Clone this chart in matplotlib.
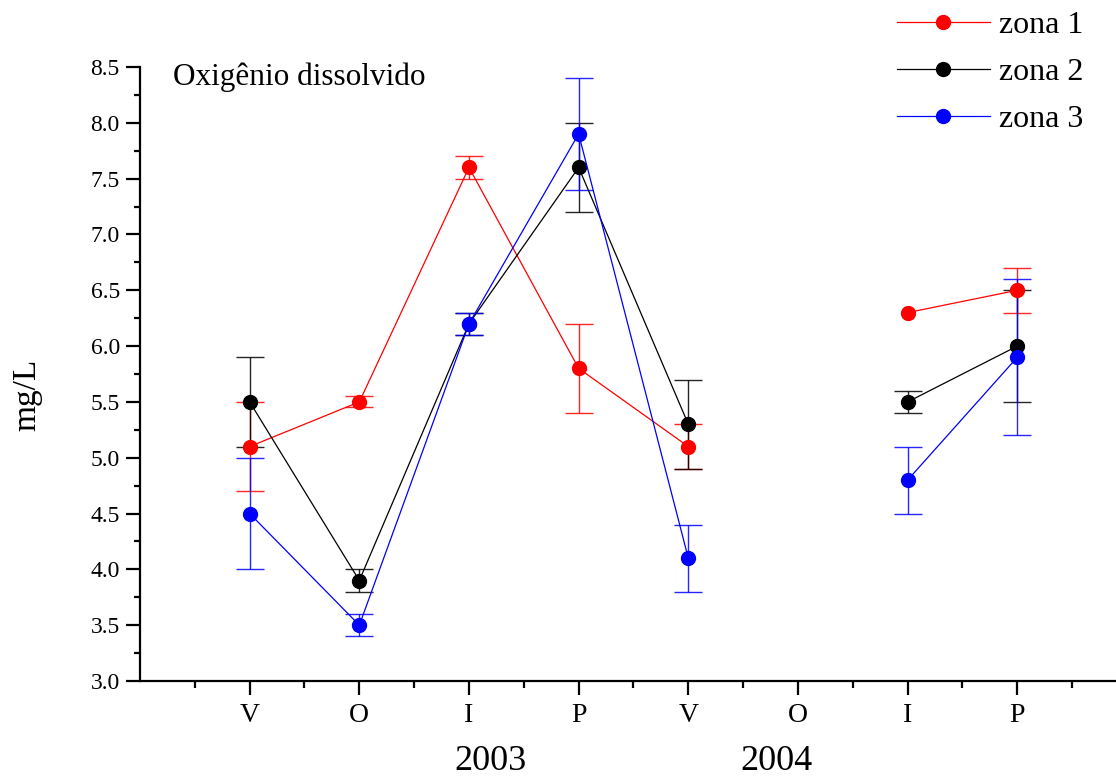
import numpy as np
import matplotlib
matplotlib.use("Agg")
import matplotlib.pyplot as plt
from matplotlib.lines import Line2D
from matplotlib.ticker import MultipleLocator, FixedLocator, FixedFormatter

plt.rcParams['font.family'] = ['Liberation Serif', 'DejaVu Serif']

seasons = ['V', 'O', 'I', 'P', 'V', 'O', 'I', 'P']
years = ['2003', '2004']
nan = np.nan
zona1 = [5.1, 5.5, 7.6, 5.8, 5.1, nan, 6.3, 6.5]
err1 = [0.4, 0.05, 0.1, 0.4, 0.2, nan, nan, 0.2]
zona2 = [5.5, 3.9, 6.2, 7.6, 5.3, nan, 5.5, 6.0]
err2 = [0.4, 0.1, 0.1, 0.4, 0.4, nan, 0.1, 0.5]
zona3 = [4.5, 3.5, 6.2, 7.9, 4.1, nan, 4.8, 5.9]
err3 = [0.5, 0.1, 0.1, 0.5, 0.3, nan, 0.3, 0.7]
labels = ['zona 1', 'zona 2', 'zona 3']
colors = ['#ff0000', '#000000', '#0000ff']

x = np.arange(1, len(seasons) + 1)

fig = plt.figure(figsize=(11.16, 7.76), dpi=100)
ax = fig.add_axes([140/1116, 95/776, 1 - 140/1116, (681-67)/776])

for y, e, c in zip([zona1, zona2, zona3], [err1, err2, err3], colors):
    y = np.array(y, float); e = np.array(e, float)
    ax.errorbar(x, y, yerr=e, fmt='none', ecolor=c, elinewidth=1.0,
                capsize=10, capthick=1.0, alpha=0.85, zorder=2)
    ax.plot(x, y, '-', color=c, lw=0.9, marker='o', markersize=10,
            markerfacecolor=c, markeredgecolor=c, zorder=3)

ax.set_xlim(0, 8.9)
ax.set_ylim(3.0, 8.5)
for s in ['top', 'right']:
    ax.spines[s].set_visible(False)
for s in ['left', 'bottom']:
    ax.spines[s].set_linewidth(1.6)

ax.yaxis.set_major_locator(MultipleLocator(0.5))
ax.yaxis.set_minor_locator(MultipleLocator(0.25))
ax.yaxis.set_major_formatter(matplotlib.ticker.FormatStrFormatter('%.1f'))
ax.xaxis.set_major_locator(FixedLocator(x))
ax.xaxis.set_major_formatter(FixedFormatter(seasons))
ax.xaxis.set_minor_locator(FixedLocator(np.arange(0.5, 9, 1.0)))

ax.tick_params(axis='both', which='major', direction='out', width=1.6, colors='black')
ax.tick_params(axis='y', which='major', length=10, pad=4.5, labelsize=17)
ax.tick_params(axis='y', which='minor', length=4, width=1.6)
ax.tick_params(axis='x', which='major', length=10, pad=6, labelsize=20)
ax.tick_params(axis='x', which='minor', length=5, width=1.6)

fig.text(27/1116, (776-395)/776, 'mg/L', rotation=90, ha='center', va='center', fontsize=24)

trans = matplotlib.transforms.blended_transform_factory(ax.transData, fig.transFigure)
ax.text(3.2, (776-761)/776, years[0], transform=trans, ha='center', va='center', fontsize=26)
ax.text(5.8, (776-761)/776, years[1], transform=trans, ha='center', va='center', fontsize=26)

ax.text(173/1116, (776-77)/776, 'Oxigênio dissolvido', transform=fig.transFigure,
        ha='left', va='center', fontsize=22.5)

handles = [Line2D([0], [0], color=c, lw=0.9, marker='o', markersize=10,
                  markerfacecolor=c, markeredgecolor=c) for c in colors]
fig.legend(handles, labels, loc='upper right', bbox_to_anchor=(0.9875, 1.011),
           frameon=False, fontsize=23, handlelength=2.9, handletextpad=0.28,
           labelspacing=0.55, borderaxespad=0.2)

fig.savefig('out.png', dpi=100)
